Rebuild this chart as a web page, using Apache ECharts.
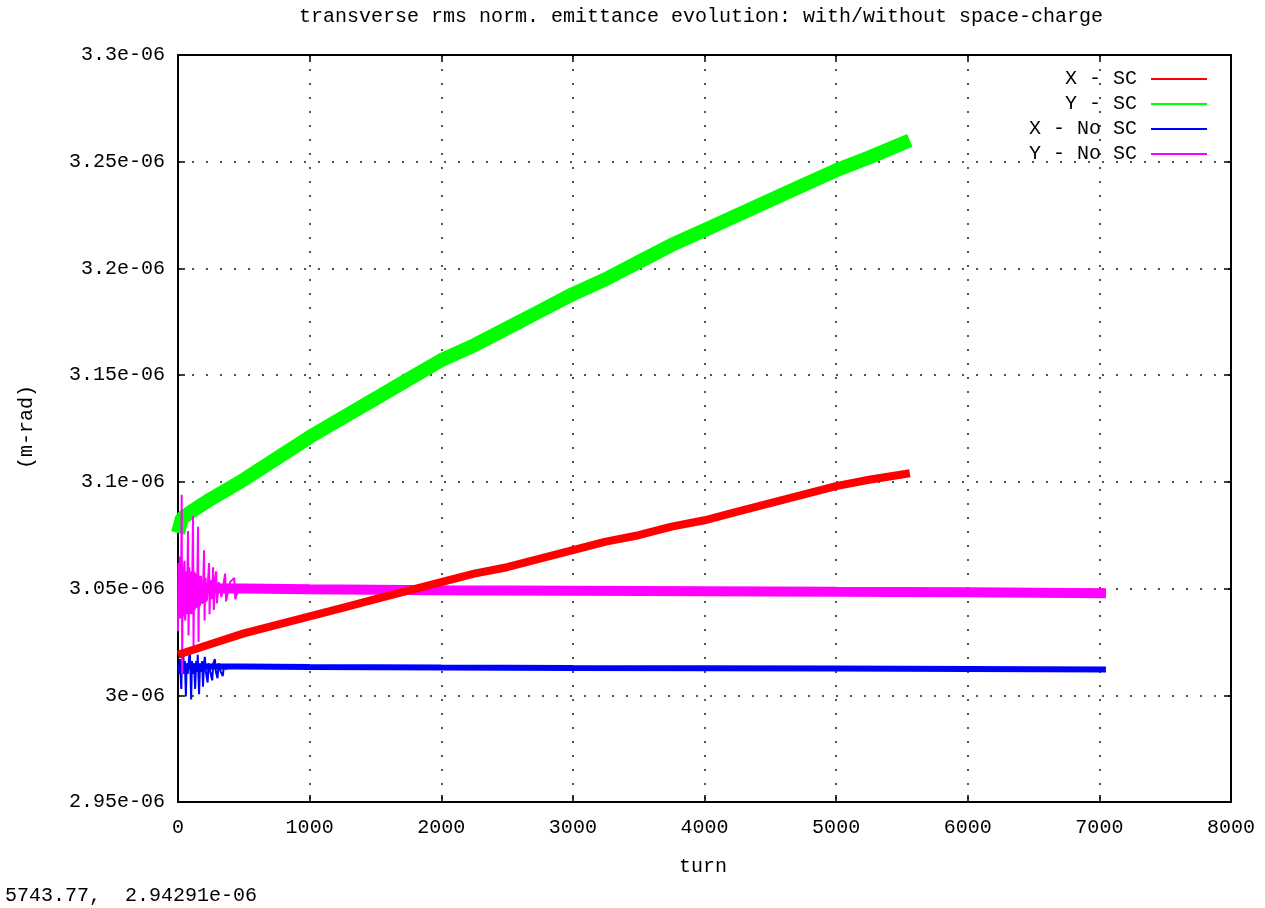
<!DOCTYPE html>
<html>
<head>
<meta charset="utf-8">
<title>transverse rms norm. emittance evolution</title>
<script src="https://cdn.jsdelivr.net/npm/echarts@6/dist/echarts.min.js"></script>
<style>
    html, body { margin: 0; padding: 0; background: #fff; }
    #main { width: 1265px; height: 908px; }
</style>
</head>
<body>
<div id="main"></div>
<script>
// emittance values below are in units of 1e-6 m-rad
const xscTurns = [0, 250, 500, 750, 1000, 1250, 1500, 1750, 2000, 2250, 2500, 2750, 3000, 3250, 3500, 3750, 4000, 4250, 4500, 4750, 5000, 5250, 5560];
const xscVals = [3.019, 3.024, 3.029, 3.033, 3.037, 3.041, 3.045, 3.049, 3.053, 3.057, 3.060, 3.064, 3.068, 3.072, 3.075, 3.079, 3.082, 3.086, 3.090, 3.094, 3.098, 3.101, 3.104];

const yscTurns = [0, 30, 100, 250, 500, 750, 1000, 1250, 1500, 1750, 2000, 2250, 2500, 2750, 3000, 3250, 3500, 3750, 4000, 4250, 4500, 4750, 5000, 5250, 5560];
const yscVals = [3.076, 3.083, 3.086, 3.092, 3.101, 3.111, 3.121, 3.130, 3.139, 3.148, 3.157, 3.164, 3.172, 3.180, 3.188, 3.195, 3.203, 3.211, 3.218, 3.225, 3.232, 3.239, 3.246, 3.252, 3.260];

const xnoscTurns = [0, 500, 1000, 2000, 3000, 4000, 5000, 6000, 7050];
const xnoscVals = [3.0135, 3.0135, 3.0133, 3.0130, 3.0128, 3.0127, 3.0125, 3.0123, 3.0121];

const ynoscTurns = [0, 500, 1000, 2000, 3000, 4000, 5000, 6000, 7050];
const ynoscVals = [3.0500, 3.0500, 3.0497, 3.0492, 3.0490, 3.0488, 3.0485, 3.0483, 3.0478];

// first few hundred turns without space-charge oscillate strongly
const xnoscEarlyTurns = [0, 8, 14, 20, 25, 30, 40, 46, 52, 60, 66, 74, 82, 90, 95, 100, 106, 114, 122, 130, 138, 145, 150, 160, 168, 176, 184, 190, 198, 204, 212, 225, 232, 245, 260, 268, 280, 288, 300, 310, 325, 340, 350, 370];
const xnoscEarlyVals = [3.014, 3.010, 3.017, 3.009, 3.003, 3.016, 3.020, 3.010, 3.016, 2.9995, 3.015, 3.010, 3.016, 3.021, 3.010, 2.998, 3.016, 3.010, 3.015, 3.003, 3.016, 3.011, 3.019, 3.0005, 3.015, 3.011, 3.016, 3.004, 3.015, 3.018, 3.011, 3.006, 3.015, 3.011, 3.007, 3.015, 3.017, 3.011, 3.008, 3.015, 3.011, 3.009, 3.014, 3.012];

const ynoscEarlyTurns = [0, 3, 5, 8, 10, 13, 15, 18, 20, 24, 28, 32, 35, 38, 41, 44, 47, 50, 53, 56, 59, 62, 65, 68, 72, 76, 80, 83, 86, 89, 92, 95, 98, 101, 104, 109, 114, 118, 121, 124, 127, 130, 133, 136, 139, 142, 147, 152, 156, 159, 162, 166, 170, 174, 178, 183, 188, 198, 202, 206, 210, 215, 220, 236, 240, 245, 250, 258, 267, 272, 282, 290, 296, 310, 330, 358, 365, 395, 427, 435, 460];
const ynoscEarlyVals = [3.030, 3.062, 3.038, 3.058, 3.036, 3.065, 3.040, 3.060, 3.036, 3.055, 3.094, 3.010, 3.058, 3.060, 3.037, 3.040, 3.061, 3.063, 3.036, 3.035, 3.058, 3.058, 3.038, 3.040, 3.059, 3.077, 3.028, 3.045, 3.060, 3.038, 3.040, 3.058, 3.058, 3.039, 3.038, 3.057, 3.084, 3.022, 3.045, 3.058, 3.040, 3.042, 3.057, 3.057, 3.041, 3.041, 3.056, 3.079, 3.025, 3.044, 3.056, 3.042, 3.043, 3.056, 3.056, 3.043, 3.044, 3.068, 3.035, 3.054, 3.055, 3.044, 3.045, 3.062, 3.038, 3.053, 3.054, 3.045, 3.060, 3.040, 3.054, 3.058, 3.043, 3.053, 3.046, 3.057, 3.044, 3.053, 3.055, 3.045, 3.050];

const turnTicks = [0, 8000, 1000];       // min, max, step
const emitTicks = [2.95, 3.3, 0.05];

const FONT = 'Liberation Mono';
const FS = 20;

function pairs(t, v) {
    return t.map((x, i) => [x, v[i]]);
}

const chart = echarts.init(document.getElementById('main'));

const tickStyle = { inside: true, length: 7, lineStyle: { color: '#000', width: 1.5 } };
const borderLine = { show: true, onZero: false, lineStyle: { color: '#000', width: 2 } };
const dotted = { show: true, lineStyle: { color: '#555', width: 2, type: [2, 12] } };

chart.setOption({
    backgroundColor: '#fff',
    animation: false,
    grid: { left: 178, right: 34, top: 55, bottom: 106 },
    legend: {
        data: ['X - SC', 'Y - SC', 'X - No SC', 'Y - No SC'],
        orient: 'vertical',
        align: 'right',
        icon: 'rect',
        right: 53,
        top: 64,
        itemWidth: 56,
        itemHeight: 2,
        itemGap: 5,
        selectedMode: false,
        textStyle: { fontFamily: FONT, fontSize: FS, color: '#000', padding: [0, 9, 0, 0] }
    },
    xAxis: [
        {
            type: 'value',
            min: turnTicks[0], max: turnTicks[1], interval: turnTicks[2],
            axisLine: borderLine,
            axisTick: tickStyle,
            axisLabel: {
                margin: 16, color: '#000', fontFamily: FONT, fontSize: FS,
                formatter: v => String(v)
            },
            splitLine: dotted
        },
        {
            type: 'value', position: 'top',
            min: turnTicks[0], max: turnTicks[1], interval: turnTicks[2],
            axisLine: borderLine, axisTick: tickStyle,
            axisLabel: { show: false }, splitLine: { show: false }
        }
    ],
    yAxis: [
        {
            type: 'value',
            min: emitTicks[0], max: emitTicks[1], interval: emitTicks[2],
            axisLine: borderLine,
            axisTick: tickStyle,
            axisLabel: {
                margin: 13, color: '#000', fontFamily: FONT, fontSize: FS,
                formatter: v => parseFloat(v.toFixed(2)) + 'e-06'
            },
            splitLine: dotted
        },
        {
            type: 'value', position: 'right',
            min: emitTicks[0], max: emitTicks[1], interval: emitTicks[2],
            axisLine: borderLine, axisTick: tickStyle,
            axisLabel: { show: false }, splitLine: { show: false }
        }
    ],
    series: [
        {
            name: 'X - SC', type: 'line', symbol: 'none', z: 6,
            data: pairs(xscTurns, xscVals),
            itemStyle: { color: '#ff0000' },
            lineStyle: { color: '#ff0000', width: 8 }
        },
        {
            name: 'Y - SC', type: 'line', symbol: 'none', z: 3,
            data: pairs(yscTurns, yscVals),
            itemStyle: { color: '#00ff00' },
            lineStyle: { color: '#00ff00', width: 14 }
        },
        {
            name: 'X - No SC', type: 'line', symbol: 'none', z: 4,
            data: pairs(xnoscTurns, xnoscVals),
            itemStyle: { color: '#0000ff' },
            lineStyle: { color: '#0000ff', width: 6 }
        },
        {
            name: 'Y - No SC', type: 'line', symbol: 'none', z: 5,
            data: pairs(ynoscTurns, ynoscVals),
            itemStyle: { color: '#ff00ff' },
            lineStyle: { color: '#ff00ff', width: 10 }
        },
        {
            name: 'X - No SC', type: 'line', symbol: 'none', z: 4,
            data: pairs(xnoscEarlyTurns, xnoscEarlyVals),
            itemStyle: { color: '#0000ff' },
            lineStyle: { color: '#0000ff', width: 2 }
        },
        {
            name: 'Y - No SC', type: 'line', symbol: 'none', z: 5,
            data: pairs(ynoscEarlyTurns, ynoscEarlyVals),
            itemStyle: { color: '#ff00ff' },
            lineStyle: { color: '#ff00ff', width: 2 }
        }
    ],
    graphic: [
        {
            type: 'text', x: 701, y: 17,
            style: {
                text: 'transverse rms norm. emittance evolution: with/without space-charge',
                font: FS + 'px "' + FONT + '"', fill: '#000',
                align: 'center', verticalAlign: 'middle',
                textAlign: 'center', textVerticalAlign: 'middle'
            }
        },
        {
            type: 'text', x: 703, y: 867,
            style: {
                text: 'turn', font: FS + 'px "' + FONT + '"', fill: '#000',
                align: 'center', verticalAlign: 'middle',
                textAlign: 'center', textVerticalAlign: 'middle'
            }
        },
        {
            type: 'text', x: 27, y: 427, rotation: Math.PI / 2,
            style: {
                text: '(m-rad)', font: FS + 'px "' + FONT + '"', fill: '#000',
                align: 'center', verticalAlign: 'middle',
                textAlign: 'center', textVerticalAlign: 'middle'
            }
        },
        {
            type: 'text', x: 5, y: 896,
            style: {
                text: '5743.77,  2.94291e-06', font: FS + 'px "' + FONT + '"', fill: '#000',
                align: 'left', verticalAlign: 'middle',
                textAlign: 'left', textVerticalAlign: 'middle'
            }
        }
    ]
});
</script>
</body>
</html>
